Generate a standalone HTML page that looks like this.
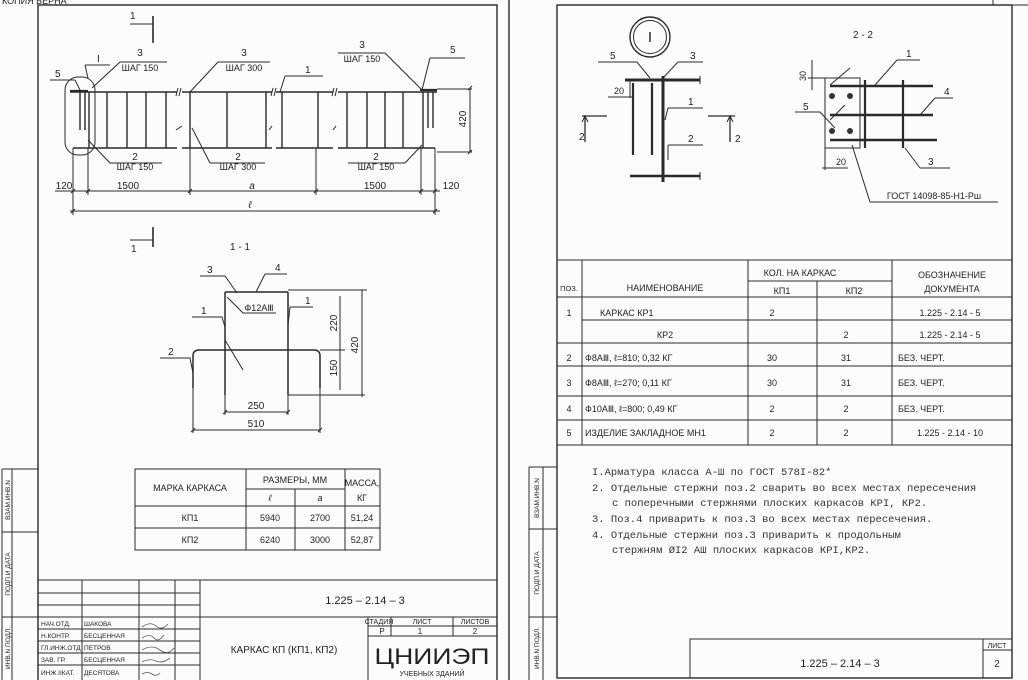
<!DOCTYPE html>
<html><head><meta charset="utf-8"><style>
html,body{margin:0;padding:0;background:#fcfcfc;}
svg{display:block;}
text{font-family:"Liberation Sans","DejaVu Sans",sans-serif;fill:#222;}
.m{font-family:"Liberation Mono","DejaVu Sans Mono",monospace;font-size:10.5px;fill:#333;}
</style></head><body>
<svg width="1028" height="680" viewBox="0 0 1028 680" xmlns="http://www.w3.org/2000/svg">
<g stroke="#2a2a2a" stroke-width="1" fill="none">
<!-- LEFT SHEET FRAME -->
<rect x="38" y="5" width="459" height="676" stroke-width="1.4"/>
<line x1="2" y1="469" x2="2" y2="680"/><line x1="12" y1="469" x2="12" y2="680"/>
<line x1="2" y1="469" x2="38" y2="469"/><line x1="2" y1="532" x2="38" y2="532"/><line x1="2" y1="617" x2="38" y2="617"/>
<!-- left title block -->
<line x1="38" y1="580" x2="497" y2="580"/>
<line x1="38" y1="593" x2="200" y2="593"/><line x1="38" y1="605" x2="200" y2="605"/>
<line x1="38" y1="617" x2="497" y2="617"/>
<line x1="38" y1="629" x2="200" y2="629"/><line x1="38" y1="641" x2="200" y2="641"/><line x1="38" y1="653" x2="200" y2="653"/><line x1="38" y1="665" x2="200" y2="665"/>
<line x1="82" y1="580" x2="82" y2="680"/><line x1="139" y1="580" x2="139" y2="680"/><line x1="175" y1="580" x2="175" y2="680"/><line x1="200" y1="580" x2="200" y2="680"/>
<line x1="368" y1="617" x2="368" y2="680"/>
<line x1="368" y1="626" x2="497" y2="626"/><line x1="368" y1="636" x2="497" y2="636"/>
<line x1="391" y1="617" x2="391" y2="636"/><line x1="453" y1="617" x2="453" y2="636"/>
<!-- left table -->
<rect x="135" y="469" width="245" height="81"/>
<line x1="135" y1="506" x2="380" y2="506"/><line x1="135" y1="528" x2="380" y2="528"/>
<line x1="246" y1="469" x2="246" y2="550"/><line x1="295" y1="489" x2="295" y2="550"/><line x1="345" y1="469" x2="345" y2="550"/>
<line x1="246" y1="489" x2="345" y2="489"/>

<!-- MAIN ELEVATION -->
<line x1="130" y1="24" x2="153" y2="24"/><line x1="153" y1="16" x2="153" y2="43" stroke-width="1.6"/>
<line x1="130" y1="240" x2="153" y2="240"/><line x1="153" y1="227" x2="153" y2="247" stroke-width="1.6"/>
<path d="M70 92H177M182 92H272M276 92H333M338 92H437" stroke-width="1.5"/>
<path d="M73 148H177M182 148H272M276 148H333M338 148H435" stroke-width="1.5"/>
<path d="M178 88L176 96M181 88L179 96M273 88L271 96M276 88L274 96M334 88L332 96M337 88L335 96M176 130L182 126M272 126L269 130M336 126L333 130"/>
<g stroke-width="1.4">
<path d="M89 92V148M107 92V148M127 92V148M146 92V148M166 92V148M190 92V148M227 92V148M266 92V148M282 92V148M318 92V148M347 92V148M367 92V148M385 92V148M403 92V148M423 92V148"/>
<path d="M80 92V130M85 92V130M428 92V128M433 92V128"/>
<path d="M70 91H88M420 90H437" stroke-width="2.2"/>
</g>
<rect x="65" y="77" width="30" height="78" rx="13"/>
<path d="M437 89H472M437 152H472M470 88V152"/>
<path d="M120 62H167M120 62L92 88M218 62H270M218 62L190 92M285 76H323M285 76L280 92M338 53H385M385 53L422 90M430 58H465M430 58L422 90M50 80H75M75 80L80 90M85 65H110M85 65L88 78"/>
<path d="M110 163H162M110 163L88 140M210 163H265M210 163L192 128M348 163H405M405 163L422 145"/>
<path d="M73 148V215M88 148V195M190 148V195M316 148V195M421 148V195M435 148V215"/>
<path d="M55 191H440M70 211H440"/>
<path d="M71 193L75 189M86 193L90 189M188 193L192 189M314 193L318 189M419 193L423 189M433 193L437 189M71 213L75 209M433 213L437 209M468 90L472 86M468 154L472 150"/>

<!-- SECTION 1-1 -->
<path d="M225 292V395M288 292V395M225 292H288" stroke-width="1.5"/>
<path d="M193 388V356Q193 350 199 350H314Q320 350 320 356V388" stroke-width="1.5"/>
<path d="M200 276H225L237 293M265 274H287M265 274L256 292M243 313H276M243 313L227 297M192 317H222L225 327M290 307H313M290 307L288 325M160 358H190L193 373M225 340L243 370"/>
<path d="M225 395V415M288 395V415M225 412H288M193 388V433M320 388V433M193 430H320"/>
<path d="M288 290H367M320 350H345M288 395H365M340 296V390M362 290V397"/>
<path d="M223 414L227 410M286 414L290 410M191 432L195 428M318 432L322 428"/>

<!-- RIGHT SHEET FRAME -->
<line x1="509" y1="0" x2="509" y2="680" stroke-width="1.4"/>
<rect x="557" y="5" width="455" height="673" stroke-width="1.4"/>
<path d="M993 0V5M1012 5H1028"/>
<line x1="529" y1="467" x2="529" y2="680"/><line x1="543" y1="467" x2="543" y2="680"/>
<line x1="529" y1="467" x2="557" y2="467"/><line x1="529" y1="529" x2="557" y2="529"/><line x1="529" y1="617" x2="557" y2="617"/>
<!-- spec table -->
<line x1="557" y1="260" x2="1012" y2="260"/>
<line x1="748" y1="281" x2="892" y2="281"/>
<line x1="557" y1="297" x2="1012" y2="297"/>
<line x1="582" y1="320" x2="1012" y2="320"/>
<line x1="557" y1="343" x2="1012" y2="343"/>
<line x1="557" y1="366" x2="1012" y2="366"/>
<line x1="557" y1="396" x2="1012" y2="396"/>
<line x1="557" y1="420" x2="1012" y2="420"/>
<line x1="557" y1="445" x2="1012" y2="445"/>
<line x1="582" y1="260" x2="582" y2="445"/><line x1="748" y1="260" x2="748" y2="445"/><line x1="817" y1="281" x2="817" y2="445"/><line x1="892" y1="260" x2="892" y2="445"/>
<!-- right title -->
<rect x="690" y="639" width="322" height="39"/>
<path d="M983 639V678M983 650H1012"/>

<!-- DETAIL I -->
<circle cx="650" cy="37" r="20" stroke-width="1.4"/><circle cx="650" cy="37" r="16.5"/>
<path d="M625 80H700" stroke-width="3"/>
<path d="M633 83V155M652 83V155" stroke-width="2.2"/>
<path d="M663 76V182" stroke-width="3"/>
<path d="M630 176H700" stroke-width="2.6"/>
<path d="M700 76V84M700 172V180"/>
<path d="M598 62H637L650 78M678 62H703M678 62L663 78M668 108H703M668 108L665 120M668 145H703M668 145L668 160"/>
<path d="M608 97H633M630 80V98"/>
<path d="M582 116H607M585 116V142M708 116H735M730 116V142" stroke-width="1.3"/>
<path d="M582 122L585 116L588 122M727 122L730 116L733 122"/>
<!-- 2-2 -->
<rect x="825" y="78" width="35" height="70"/>
<path d="M830 86H933M830 115H933M830 140H937" stroke-width="2.4"/>
<path d="M865 80V148M903 80V148" stroke-width="2.2"/>
<path d="M897 60H920M897 60L875 85M935 98H953M935 98L920 115M920 168H950M920 168L905 148M795 112H820L835 128M830 85L850 68M830 120L845 105"/>
<path d="M870 202H998M870 202L852 145"/>
<path d="M812 60V90M808 78H825M822 168H848M825 148V170"/>
</g>
<g fill="#333"><circle cx="832" cy="96" r="3"/><circle cx="850" cy="96" r="3"/><circle cx="832" cy="131" r="3"/><circle cx="850" cy="131" r="3"/></g>

<!-- TEXT LEFT -->
<g font-size="10">
<text x="2" y="4" font-size="9" fill="#999">КОПИЯ ВЕРНА</text>
<text x="130" y="19">1</text><text x="131" y="252">1</text>
<text x="140" y="56" text-anchor="middle">3</text><text x="140" y="71" text-anchor="middle" font-size="9">ШАГ 150</text>
<text x="244" y="56" text-anchor="middle">3</text><text x="244" y="71" text-anchor="middle" font-size="9">ШАГ 300</text>
<text x="305" y="73">1</text>
<text x="362" y="48" text-anchor="middle">3</text><text x="362" y="62" text-anchor="middle" font-size="9">ШАГ 150</text>
<text x="450" y="53">5</text><text x="55" y="77">5</text><text x="97" y="62">I</text>
<text x="135" y="160" text-anchor="middle">2</text><text x="135" y="170" text-anchor="middle" font-size="9">ШАГ 150</text>
<text x="238" y="160" text-anchor="middle">2</text><text x="238" y="170" text-anchor="middle" font-size="9">ШАГ 300</text>
<text x="376" y="160" text-anchor="middle">2</text><text x="376" y="170" text-anchor="middle" font-size="9">ШАГ 150</text>
<text x="64" y="189" text-anchor="middle">120</text><text x="128" y="189" text-anchor="middle">1500</text>
<text x="252" y="189" text-anchor="middle" font-style="italic">a</text>
<text x="375" y="189" text-anchor="middle">1500</text><text x="451" y="189" text-anchor="middle">120</text>
<text x="250" y="208" text-anchor="middle" font-style="italic">ℓ</text>
<text x="466" y="119" text-anchor="middle" transform="rotate(-90 466 119)">420</text>
<text x="240" y="250" text-anchor="middle">1 - 1</text>
<text x="207" y="273">3</text><text x="275" y="271">4</text>
<text x="259" y="311" text-anchor="middle" font-size="9">Ф12АⅢ</text>
<text x="201" y="314">1</text><text x="305" y="304">1</text><text x="168" y="355">2</text>
<text x="256" y="409" text-anchor="middle">250</text><text x="256" y="427" text-anchor="middle">510</text>
<text x="337" y="323" text-anchor="middle" transform="rotate(-90 337 323)">220</text>
<text x="337" y="368" text-anchor="middle" transform="rotate(-90 337 368)">150</text>
<text x="358" y="345" text-anchor="middle" transform="rotate(-90 358 345)">420</text>
</g>
<g font-size="9">
<text x="190" y="491" text-anchor="middle">МАРКА КАРКАСА</text>
<text x="295" y="483" text-anchor="middle">РАЗМЕРЫ, ММ</text>
<text x="270" y="501" text-anchor="middle" font-style="italic">ℓ</text><text x="320" y="501" text-anchor="middle" font-style="italic">a</text>
<text x="362" y="486" text-anchor="middle">МАССА,</text><text x="362" y="501" text-anchor="middle">КГ</text>
<text x="190" y="521" text-anchor="middle">КП1</text><text x="270" y="521" text-anchor="middle">5940</text><text x="320" y="521" text-anchor="middle">2700</text><text x="362" y="521" text-anchor="middle">51,24</text>
<text x="190" y="543" text-anchor="middle">КП2</text><text x="270" y="543" text-anchor="middle">6240</text><text x="320" y="543" text-anchor="middle">3000</text><text x="362" y="543" text-anchor="middle">52,87</text>
<text x="365" y="604" text-anchor="middle" font-size="11">1.225 – 2.14 – 3</text>
<text x="284" y="653" text-anchor="middle" font-size="10">КАРКАС КП (КП1, КП2)</text>
<text x="379" y="624" text-anchor="middle" font-size="7">СТАДИЯ</text><text x="422" y="624" text-anchor="middle" font-size="7">ЛИСТ</text><text x="475" y="624" text-anchor="middle" font-size="7">ЛИСТОВ</text>
<text x="382" y="634" text-anchor="middle" font-size="8">Р</text><text x="420" y="634" text-anchor="middle" font-size="8">1</text><text x="475" y="634" text-anchor="middle" font-size="8">2</text>
<text x="432" y="664" text-anchor="middle" font-size="22" textLength="115" lengthAdjust="spacingAndGlyphs">ЦНИИЭП</text>
<text x="432" y="676" text-anchor="middle" font-size="7">УЧЕБНЫХ ЗДАНИЙ</text>
</g>
<g font-size="6.5">
<text x="41" y="626">НАЧ.ОТД.</text><text x="84" y="626">ШАКОВА</text>
<text x="41" y="638">Н.КОНТР.</text><text x="84" y="638">БЕСЦЕННАЯ</text>
<text x="41" y="650">ГЛ.ИНЖ.ОТД</text><text x="84" y="650">ПЕТРОВ</text>
<text x="41" y="662">ЗАВ. ГР.</text><text x="84" y="662">БЕСЦЕННАЯ</text>
<text x="41" y="675">ИНЖ.IIКАТ.</text><text x="84" y="675">ДЕСЯТОВА</text>
<text x="10" y="500" text-anchor="middle" transform="rotate(-90 10 500)">ВЗАМ.ИНВ.N</text>
<text x="10" y="574" text-anchor="middle" transform="rotate(-90 10 574)">ПОДП.И ДАТА</text>
<text x="10" y="648" text-anchor="middle" transform="rotate(-90 10 648)">ИНВ.N ПОДЛ.</text>
<text x="539" y="498" text-anchor="middle" transform="rotate(-90 539 498)">ВЗАМ.ИНВ.N</text>
<text x="539" y="573" text-anchor="middle" transform="rotate(-90 539 573)">ПОДП.И ДАТА</text>
<text x="539" y="648" text-anchor="middle" transform="rotate(-90 539 648)">ИНВ.N ПОДЛ.</text>
</g>
<g stroke="#555" fill="none" stroke-width="0.8">
<path d="M142 627q8-6 14-1t12-2M142 638q8-5 12 0t10-3M142 650q10-6 18 0t14-2M142 662q8-4 14-1t14-3M142 674q6-3 10 0t8-1"/>
</g>

<!-- TEXT RIGHT -->
<g font-size="10">
<text x="650" y="42" text-anchor="middle" font-size="15">I</text>
<text x="610" y="59">5</text><text x="690" y="59">3</text><text x="688" y="105">1</text><text x="688" y="142">2</text>
<text x="614" y="94" font-size="9">20</text>
<text x="579" y="140">2</text><text x="735" y="142">2</text>
<text x="863" y="38" text-anchor="middle">2 - 2</text>
<text x="906" y="57">1</text><text x="944" y="95">4</text><text x="928" y="165">3</text><text x="803" y="110">5</text>
<text x="806" y="76" text-anchor="middle" font-size="9" transform="rotate(-90 806 76)">30</text>
<text x="836" y="165" font-size="9">20</text>
<text x="934" y="199" text-anchor="middle" font-size="9">ГОСТ 14098-85-Н1-Рш</text>
</g>
<g font-size="9">
<text x="569" y="291" text-anchor="middle" font-size="7.5">ПОЗ.</text>
<text x="665" y="291" text-anchor="middle">НАИМЕНОВАНИЕ</text>
<text x="800" y="276" text-anchor="middle">КОЛ. НА КАРКАС</text>
<text x="782" y="294" text-anchor="middle">КП1</text><text x="854" y="294" text-anchor="middle">КП2</text>
<text x="952" y="278" text-anchor="middle">ОБОЗНАЧЕНИЕ</text><text x="952" y="292" text-anchor="middle">ДОКУМЕНТА</text>
<text x="569" y="316" text-anchor="middle">1</text><text x="600" y="316">КАРКАС КР1</text><text x="772" y="316" text-anchor="middle">2</text><text x="950" y="316" text-anchor="middle">1.225 - 2.14 - 5</text>
<text x="665" y="338" text-anchor="middle">КР2</text><text x="846" y="338" text-anchor="middle">2</text><text x="950" y="338" text-anchor="middle">1.225 - 2.14 - 5</text>
<text x="569" y="361" text-anchor="middle">2</text><text x="585" y="361">Ф8АⅢ,  ℓ=810;  0,32 КГ</text><text x="772" y="361" text-anchor="middle">30</text><text x="846" y="361" text-anchor="middle">31</text><text x="898" y="361">БЕЗ. ЧЕРТ.</text>
<text x="569" y="386" text-anchor="middle">3</text><text x="585" y="386">Ф8АⅢ,  ℓ=270;  0,11 КГ</text><text x="772" y="386" text-anchor="middle">30</text><text x="846" y="386" text-anchor="middle">31</text><text x="898" y="386">БЕЗ. ЧЕРТ.</text>
<text x="569" y="412" text-anchor="middle">4</text><text x="585" y="412">Ф10АⅢ,  ℓ=800;  0,49 КГ</text><text x="772" y="412" text-anchor="middle">2</text><text x="846" y="412" text-anchor="middle">2</text><text x="898" y="412">БЕЗ. ЧЕРТ.</text>
<text x="569" y="436" text-anchor="middle">5</text><text x="585" y="436">ИЗДЕЛИЕ ЗАКЛАДНОЕ МН1</text><text x="772" y="436" text-anchor="middle">2</text><text x="846" y="436" text-anchor="middle">2</text><text x="950" y="436" text-anchor="middle">1.225 - 2.14 - 10</text>
<text x="840" y="667" text-anchor="middle" font-size="11">1.225 – 2.14 – 3</text>
<text x="997" y="648" text-anchor="middle" font-size="7">ЛИСТ</text><text x="997" y="667" text-anchor="middle" font-size="10">2</text>
</g>
<text class="m" x="592" y="475">I.Арматура класса А-Ш по ГОСТ 578I-82*</text>
<text class="m" x="592" y="491">2. Отдельные стержни поз.2 сварить во всех местах пересечения</text>
<text class="m" x="612" y="506">с поперечными стержнями плоских каркасов КРI, КР2.</text>
<text class="m" x="592" y="522">3. Поз.4 приварить к поз.3 во всех местах пересечения.</text>
<text class="m" x="592" y="538">4. Отдельные стержни поз.3 приварить к продольным</text>
<text class="m" x="612" y="553">стержням ØI2 АШ плоских каркасов КРI,КР2.</text>
</svg>
</body></html>
